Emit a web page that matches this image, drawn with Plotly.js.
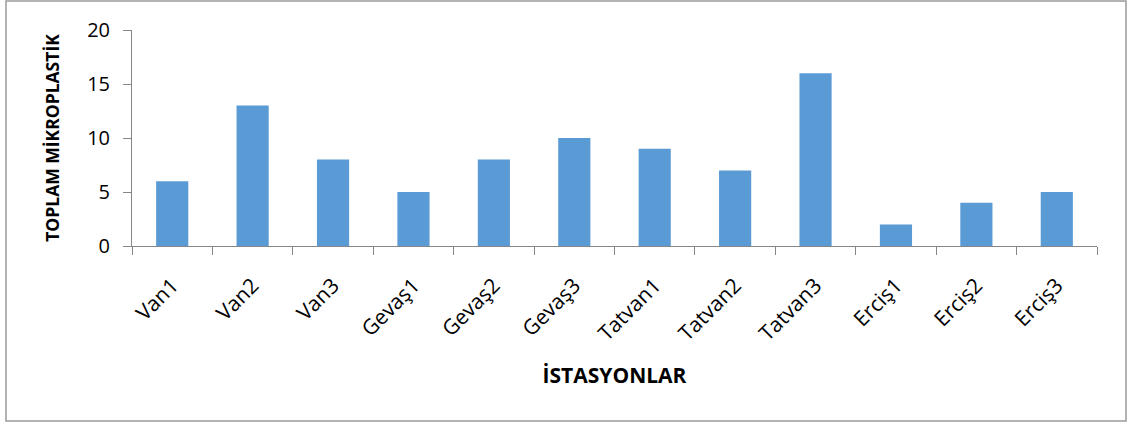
<!DOCTYPE html>
<html>
<head>
<meta charset="utf-8">
<script src="https://cdn.plot.ly/plotly-3.0.1.min.js"></script>
<style>html,body{margin:0;padding:0;background:#fff;}#chart{width:1127px;height:423px;}</style>
</head>
<body>
<div id="chart"></div>
<script>
const stations = ["Van1","Van2","Van3","Gevaş1","Gevaş2","Gevaş3","Tatvan1","Tatvan2","Tatvan3","Erciş1","Erciş2","Erciş3"];
const totals = [6,13,8,5,8,10,9,7,16,2,4,5];
const yTickVals = [0,5,10,15,20];

const W = 1127, H = 423;
const mL = 132, mR = 30, mT = 30, mB = 177;
const pw = W - mL - mR, ph = H - mT - mB;
function px(x){return (x - mL)/pw;}
function py(y){return (H - mB - y)/ph;}

const font = "Open Sans, Liberation Sans, sans-serif";
Plotly.newPlot("chart", [{
  type: "bar",
  x: stations,
  y: totals,
  marker: {color: "#5B9BD5"},
  hoverinfo: "x+y"
}], {
  width: W, height: H,
  margin: {l: mL, r: mR, t: mT, b: mB, pad: 0},
  paper_bgcolor: "#fff", plot_bgcolor: "#fff",
  bargap: 0.6,
  showlegend: false,
  font: {family: font, color: "#000"},
  xaxis: {
    type: "category",
    tickson: "boundaries",
    ticks: "outside", ticklen: 8, tickcolor: "#868686", tickwidth: 1,
    showline: true, linecolor: "#868686", linewidth: 1,
    showgrid: false, zeroline: false,
    tickangle: -45,
    ticklabelstandoff: 18,
    tickfont: {family: font, size: 21, color: "#000"},
    title: {text: "İSTASYONLAR", font: {family: font, size: 21, color: "#000", weight: "bold"}, standoff: 22},
    automargin: false
  },
  yaxis: {
    range: [0, 20],
    tickvals: yTickVals,
    ticks: "outside", ticklen: 8, tickcolor: "#868686", tickwidth: 1,
    showline: true, linecolor: "#868686", linewidth: 1,
    showgrid: false, zeroline: false,
    tickfont: {family: font, size: 20, color: "#000"},
    ticklabelstandoff: 9,
    title: {text: "TOPLAM MİKROPLASTİK", font: {family: font, size: 17.5, color: "#000", weight: "bold"}, standoff: 23},
    automargin: false
  },
  shapes: [{
    type: "rect", xref: "paper", yref: "paper",
    x0: px(6), x1: px(1126), y0: py(421), y1: py(1),
    line: {color: "#9a9a9a", width: 1.5}, fillcolor: "rgba(0,0,0,0)", layer: "below"
  }]
}, {displayModeBar: false, staticPlot: true});
</script>
</body>
</html>
